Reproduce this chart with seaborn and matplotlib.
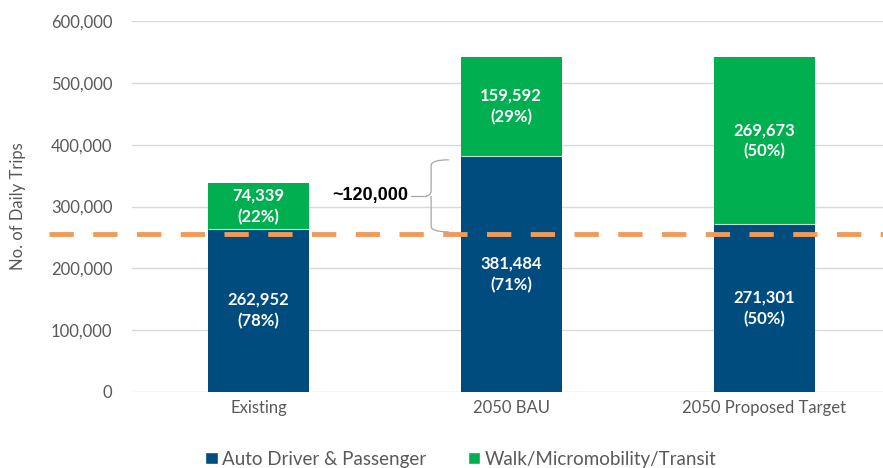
import numpy as np
import pandas as pd
import matplotlib
matplotlib.use("Agg")
import matplotlib.pyplot as plt
from matplotlib.path import Path
from matplotlib.patches import PathPatch, Patch
import seaborn as sns

# datos
escenarios = ["Existing", "2050 BAU", "2050 Proposed Target"]
auto = [262952, 381484, 271301]
activo = [74339, 159592, 269673]
pct_auto = ["78%", "71%", "50%"]
pct_activo = ["22%", "29%", "50%"]
linea_base = 255000
texto_dif = "~120,000"
serie_nombres = ["Auto Driver & Passenger", "Walk/Micromobility/Transit"]

AZUL = "#004C7F"
VERDE = "#00B050"
NARANJA = "#F19A59"
GRIS = "#595959"

sns.set_theme(style="white")
plt.rcParams["font.family"] = ["Lato", "DejaVu Sans"]

df = pd.DataFrame({"escenario": escenarios, "auto": auto, "activo": activo})
df["total"] = df["auto"] + df["activo"]

fig = plt.figure(figsize=(8.83, 4.68), dpi=100)
ax = fig.add_axes([132 / 883, 76 / 468, 1 - 132 / 883, (392 - 21) / 468])

# barras apiladas: total (verde) debajo, auto (azul) encima
sns.barplot(data=df, x="escenario", y="total", color=VERDE, width=0.4,
            saturation=1, ax=ax, zorder=2, linewidth=0)
sns.barplot(data=df, x="escenario", y="auto", color=AZUL, width=0.4,
            saturation=1, ax=ax, zorder=3, linewidth=0)

# fina linea clara en la union de los dos tramos
ax.hlines(df["auto"], np.arange(len(df)) - 0.2, np.arange(len(df)) + 0.2,
          color="#BFE3CF", linewidth=0.8, zorder=4)

ax.set_ylim(0, 600000)
ax.set_xlim(-0.5, 2.47)
ax.set_yticks(np.arange(0, 600001, 100000))
ax.yaxis.set_major_formatter(matplotlib.ticker.FuncFormatter(lambda v, p: f"{int(v):,}"))
ax.grid(axis="y", color="#D9D9D9", linewidth=1, zorder=0)
ax.set_axisbelow(True)
for s in ax.spines.values():
    s.set_visible(False)
ax.tick_params(axis="both", length=0, labelsize=12, labelcolor=GRIS, pad=6)
ax.tick_params(axis="y", pad=14)
ax.set_xlabel("")
ax.set_ylabel("No. of Daily Trips", fontsize=12, color=GRIS, labelpad=18)

# etiquetas dentro de las barras
for i, fila in df.iterrows():
    ax.text(i, fila["auto"] / 2, f"{fila['auto']:,}\n({pct_auto[i]})", ha="center",
            va="center", color="white", fontsize=12, fontweight="bold",
            linespacing=1.4, zorder=5)
    ax.text(i, fila["auto"] + fila["activo"] / 2, f"{fila['activo']:,}\n({pct_activo[i]})",
            ha="center", va="center", color="white", fontsize=12, fontweight="bold",
            linespacing=1.4, zorder=5)

# linea discontinua de referencia
ax.plot([-0.11, 1.0], [linea_base, linea_base], transform=ax.get_yaxis_transform(),
        color=NARANJA, linewidth=3.5, dashes=(5, 4), clip_on=False, zorder=6)

# llave entre auto existente y auto BAU
x0 = 0.683
y_bajo, y_alto = auto[0] - 4000, auto[1] - 6000
y_mid = (y_bajo + y_alto) / 2
dx, r = 0.07, 9000
verts = [
    (x0 + dx, y_alto), (x0, y_alto), (x0, y_alto - r),
    (x0, y_mid + r),
    (x0, y_mid), (x0 - 0.02, y_mid),
    (x0, y_mid), (x0, y_mid - r),
    (x0, y_bajo + r),
    (x0, y_bajo), (x0 + dx, y_bajo),
]
codes = [Path.MOVETO, Path.CURVE3, Path.CURVE3, Path.LINETO,
         Path.CURVE3, Path.CURVE3, Path.MOVETO, Path.CURVE3, Path.LINETO,
         Path.CURVE3, Path.CURVE3]
ax.add_patch(PathPatch(Path(verts, codes), facecolor="none", edgecolor="#A6A6A6",
                       linewidth=0.9, zorder=6))
ax.plot([x0 - 0.02, x0 - 0.08], [y_mid, y_mid], color="#A6A6A6", linewidth=0.9, zorder=6)
ax.text(x0 - 0.09, y_mid, texto_dif, ha="right", va="center", fontsize=13,
        fontweight="bold", color="black", family=["Liberation Sans", "DejaVu Sans"], zorder=7)

# leyenda
handles = [Patch(facecolor=AZUL, label=serie_nombres[0]),
           Patch(facecolor=VERDE, label=serie_nombres[1])]
fig.legend(handles=handles, loc="lower center", bbox_to_anchor=(0.522, -0.035), ncol=2,
           frameon=False, fontsize=13.5, handlelength=0.65, handleheight=0.65,
           handletextpad=0.25, columnspacing=2.2, labelcolor=GRIS)

fig.savefig("out.png", dpi=100)
